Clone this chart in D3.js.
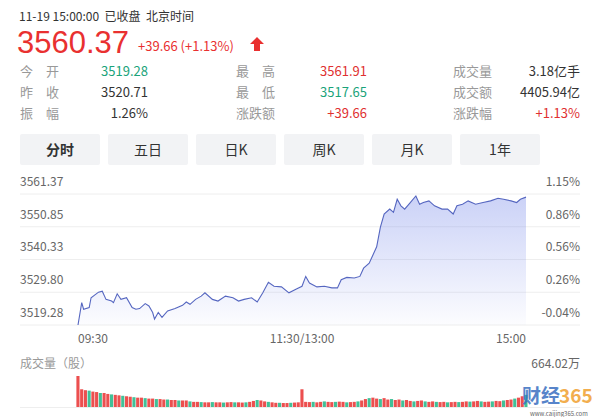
<!DOCTYPE html>
<html><head><meta charset="utf-8">
<script src="https://cdn.jsdelivr.net/npm/d3@7"></script>
<style>body{margin:0;background:#fff}svg{font-family:"Noto Sans CJK SC","Noto Sans",Arial,sans-serif}</style>
</head><body><svg id="c" width="597" height="417"></svg>
<script>
const minutes=[0,2,3,6,7,11,13,15,18,19,21,23,26,29,31,33,36,38,40,41,43,45,48,52,56,58,60,63,66,68,72,75,79,83,86,89,93,96,99,102,105,109,113,117,120,122,124,128,132,136,139,141,144,148,151,153,156,158,160,162,164,167,169,171,173,175,178,181,183,185,188,191,195,198,201,203,206,209,213,217,221,225,228,232,235,237,240];
const prices=[3519.28,3526.45,3524.34,3524.87,3528.04,3529.83,3530.15,3527.51,3526.98,3526.45,3529.30,3527.51,3528.04,3524.87,3524.34,3524.56,3526.14,3525.40,3523.29,3521.18,3523.29,3521.71,3523.82,3524.56,3525.61,3526.67,3525.93,3527.51,3528.56,3529.62,3527.51,3526.98,3528.56,3528.04,3526.98,3527.51,3528.04,3526.67,3529.62,3532.99,3531.73,3531.52,3529.62,3530.88,3531.73,3534.89,3532.78,3531.52,3531.73,3531.20,3531.20,3533.84,3534.58,3534.37,3534.89,3537.53,3539.11,3541.75,3544.39,3550.72,3554.94,3556.52,3555.47,3559.69,3557.58,3556.52,3558.63,3560.74,3558.10,3558.63,3559.16,3557.58,3556.52,3556.52,3554.94,3557.58,3558.10,3559.16,3558.10,3558.63,3559.16,3560.00,3559.69,3559.16,3558.63,3559.69,3560.37];
const volumes=[664,380,360,350,330,320,300,300,280,270,260,250,240,230,220,210,200,200,190,180,180,170,170,160,160,150,150,140,140,140,
120,110,110,105,100,100,105,100,100,95,100,105,100,100,95,100,110,130,150,140,
120,110,100,90,90,85,85,90,95,100,380,
110,105,110,100,110,120,110,105,110,115,110,100,105,110,120,
140,170,190,200,180,170,190,160,170,150,160,140,150,130,120,130,140,120,110,120,
110,105,110,100,105,110,105,110,120,115,120,130,120,110,115,120,130,125,140,150,
160,180,200,230,260];
const leftTicks=[3561.37,3550.85,3540.33,3529.80,3519.28];
const rightTicks=["1.15%","0.86%","0.56%","0.26%","-0.04%"];
const xTicks=[{m:0,t:"09:30",a:"start"},{m:120,t:"11:30/13:00",a:"middle"},{m:240,t:"15:00",a:"end"}];
const tabs=["分时","五日","日K","周K","月K","1年"];
const stats=[["今　开","3519.28","#1aa37a"],["昨　收","3520.71","#333"],["振　幅","1.26%","#333"],
["最　高","3561.91","#e03030"],["最　低","3517.65","#1aa37a"],["涨跌额","+39.66","#e03030"],
["成交量","3.18亿手","#333"],["成交额","4405.94亿","#333"],["涨跌幅","+1.13%","#e03030"]];

const svg=d3.select("#c");
const red="#e93030",green="#20b585";
svg.append("text").attr("x",19).attr("y",21).attr("font-size",12).attr("fill","#333").attr("xml:space","preserve").text("11-19 15:00:00  已收盘  北京时间");
svg.append("text").attr("x",17).attr("y",53).attr("font-size",31).attr("font-family","Arial,Liberation Sans").attr("fill",red).text("3560.37");
svg.append("text").attr("x",138).attr("y",51).attr("font-size",13).attr("fill",red).text("+39.66 (+1.13%)");
svg.append("path").attr("d","M257,37 L264,44 L260,44 L260,51 L254,51 L254,44 L250,44 Z").attr("fill",red);
const colL=[20,236,453], colR=[148,367,580];
stats.forEach((s,i)=>{const c=Math.floor(i/3),r=i%3,y=76+r*21;
 svg.append("text").attr("x",colL[c]).attr("y",y).attr("font-size",13).attr("fill","#999").text(s[0]);
 svg.append("text").attr("x",colR[c]).attr("y",y).attr("text-anchor","end").attr("font-size",13).attr("fill",s[2]).text(s[1]);});
tabs.forEach((t,i)=>{const x=20+i*88;
 svg.append("rect").attr("x",x).attr("y",134).attr("width",80).attr("height",31).attr("rx",2).attr("fill","#f2f3f5");
 svg.append("text").attr("x",x+40).attr("y",155).attr("text-anchor","middle").attr("font-size",14).attr("font-weight",i==0?"bold":"normal").attr("fill","#333").text(t);});

const x=d3.scaleLinear().domain([0,240]).range([78,526]);
const y=d3.scaleLinear().domain([3519.28,3561.37]).range([325,194]);
leftTicks.forEach((v,i)=>{
 svg.append("line").attr("x1",20).attr("x2",580).attr("y1",y(v)).attr("y2",y(v)).attr("stroke","#eeeeee");
 svg.append("text").attr("x",20).attr("y",y(v)-8).attr("font-size",12).attr("fill","#666").text(v.toFixed(2));
 svg.append("text").attr("x",580).attr("y",y(v)-8).attr("text-anchor","end").attr("font-size",12).attr("fill","#666").text(rightTicks[i]);});
const defs=svg.append("defs");
const g=defs.append("linearGradient").attr("id","gr").attr("x1",0).attr("x2",0).attr("y1",0).attr("y2",1);
g.append("stop").attr("offset","0").attr("stop-color","#6a7ee8").attr("stop-opacity",0.35);
g.append("stop").attr("offset","1").attr("stop-color","#6a7ee8").attr("stop-opacity",0.02);
const data=minutes.map((m,i)=>({m,p:prices[i]}));
svg.append("path").datum(data).attr("fill","url(#gr)").attr("d",d3.area().x(d=>x(d.m)).y0(325).y1(d=>y(d.p)));
svg.append("path").datum(data).attr("fill","none").attr("stroke","#5566c0").attr("stroke-width",1.1).attr("d",d3.line().x(d=>x(d.m)).y(d=>y(d.p)));
xTicks.forEach(t=>svg.append("text").attr("x",x(t.m)).attr("y",343).attr("text-anchor",t.a).attr("font-size",12).attr("fill","#666").text(t.t));

svg.append("text").attr("x",20).attr("y",368).attr("font-size",12).attr("fill","#999").text("成交量（股）");
svg.append("text").attr("x",580).attr("y",368).attr("text-anchor","end").attr("font-size",12).attr("fill","#666").text("664.02万");
const vy=d3.scaleLinear().domain([0,664.02]).range([407,376]);
svg.append("line").attr("x1",20).attr("x2",580).attr("y1",407.5).attr("y2",407.5).attr("stroke","#eee");
volumes.forEach((v,i)=>{const m=i*2;
 svg.append("rect").attr("x",x(m)-1.6).attr("y",vy(v)).attr("width",3.1).attr("height",407-vy(v))
  .attr("fill",(i==0||i==60||(i*7)%3!=0)?red:green).attr("opacity",0.85);});
svg.append("text").attr("x",522).attr("y",403).attr("font-size",19).attr("font-weight","bold").attr("fill","#3a6fc1").attr("opacity",0.85).text("财经");
svg.append("text").attr("x",559).attr("y",403).attr("font-size",19).attr("font-weight","bold").attr("fill","#f0a030").attr("opacity",0.85).text("365");
svg.append("text").attr("x",530).attr("y",416).attr("font-size",6).attr("fill","#666").text("www.caijing365.com");
</script></body></html>
